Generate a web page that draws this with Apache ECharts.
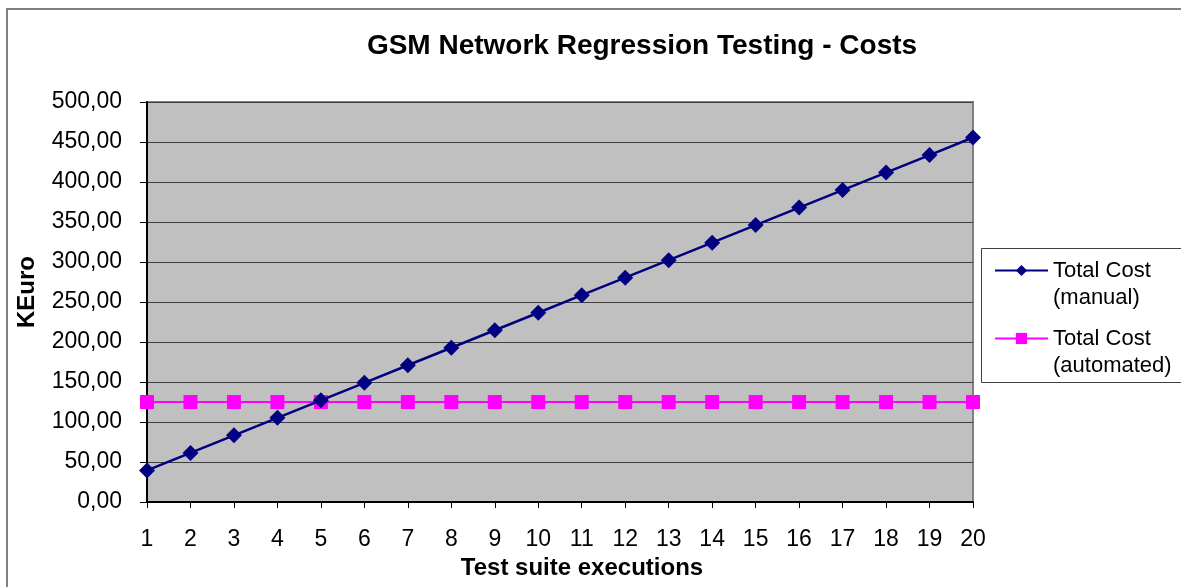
<!DOCTYPE html>
<html lang="en">
<head>
<meta charset="utf-8">
<title>GSM Network Regression Testing - Costs</title>
<script src="https://cdn.jsdelivr.net/npm/echarts@6/dist/echarts.min.js"></script>
<style>
  html, body { margin: 0; padding: 0; background: #fff; }
  #chart { width: 1181px; height: 587px; }
</style>
</head>
<body>
<div id="chart"></div>
<script type="text/javascript">
// test suite executions
let executions = ['1','2','3','4','5','6','7','8','9','10','11','12','13','14','15','16','17','18','19','20'];
// KEuro
let manualCost = [39.5, 61.4, 83.3, 105.2, 127.1, 149.0, 170.9, 192.8, 214.7, 236.6, 258.5, 280.4, 302.3, 324.2, 346.1, 368.0, 389.9, 411.8, 433.7, 455.6];
let automatedCost = [125, 125, 125, 125, 125, 125, 125, 125, 125, 125, 125, 125, 125, 125, 125, 125, 125, 125, 125, 125];
let seriesNames = ['Total Cost\n(manual)', 'Total Cost\n(automated)'];

let font = 'Liberation Sans, Arial, sans-serif';
let Chart = echarts.init(document.getElementById('chart'));

let option = {
    animation: false,
    textStyle: { fontFamily: font },
    title: {
        text: 'GSM Network Regression Testing - Costs',
        left: 637,
        textAlign: 'center',
        top: 27,
        textStyle: { fontSize: 28, fontWeight: 'bold', color: '#000', fontFamily: font }
    },
    graphic: [{
        // chart frame
        type: 'rect',
        shape: { x: 7, y: 9, width: 1200, height: 600 },
        style: { fill: 'none', stroke: '#808080', lineWidth: 2 },
        silent: true
    }, {
        // legend frame
        type: 'rect',
        shape: { x: 981.5, y: 248.5, width: 230, height: 134 },
        style: { fill: '#fff', stroke: '#404040', lineWidth: 1 },
        silent: true
    }],
    legend: {
        orient: 'vertical',
        left: 994,
        top: 230,
        padding: 0,
        itemGap: -13,
        itemWidth: 53,
        itemHeight: 14,
        // blank first line keeps the symbol level with "Total Cost"
        formatter: function (name) { return ' \n' + name; },
        textStyle: { fontSize: 22, color: '#000', lineHeight: 27, fontFamily: font },
        data: seriesNames
    },
    grid: {
        left: 147,
        right: 208,
        top: 102,
        bottom: 85,
        show: true,
        backgroundColor: '#c0c0c0',
        borderColor: '#808080',
        borderWidth: 2
    },
    xAxis: {
        type: 'category',
        boundaryGap: false,
        data: executions,
        name: 'Test suite executions',
        nameLocation: 'middle',
        nameGap: 46,
        nameTextStyle: { fontSize: 24, fontWeight: 'bold', color: '#000', padding: [0, 0, 0, 44] },
        axisLine: { lineStyle: { color: '#000', width: 2 } },
        axisTick: { show: true, length: 6, lineStyle: { color: '#000' } },
        axisLabel: { fontSize: 23, color: '#000', margin: 26 },
        splitLine: { show: false }
    },
    yAxis: {
        type: 'value',
        min: 0,
        max: 500,
        interval: 50,
        name: 'KEuro',
        nameLocation: 'middle',
        nameGap: 108,
        nameRotate: 90,
        nameTextStyle: { fontSize: 24, fontWeight: 'bold', color: '#000', padding: [0, 0, 0, 20] },
        axisLine: { show: true, lineStyle: { color: '#000', width: 2 } },
        axisTick: { show: true, length: 7, lineStyle: { color: '#000' } },
        axisLabel: {
            fontSize: 23,
            color: '#000',
            margin: 25,
            formatter: function (v) { return v.toFixed(2).replace('.', ','); }
        },
        splitLine: { show: true, lineStyle: { color: '#404040', width: 1 } }
    },
    series: [{
        name: seriesNames[0],
        type: 'line',
        data: manualCost,
        symbol: 'diamond',
        symbolSize: 16,
        lineStyle: { color: '#000080', width: 2.5 },
        itemStyle: { color: '#000080' },
        z: 3
    }, {
        name: seriesNames[1],
        type: 'line',
        data: automatedCost,
        symbol: 'rect',
        symbolSize: 14,
        lineStyle: { color: '#ff00ff', width: 2 },
        itemStyle: { color: '#ff00ff' },
        z: 2
    }]
};

Chart.setOption(option);
</script>
</body>
</html>
